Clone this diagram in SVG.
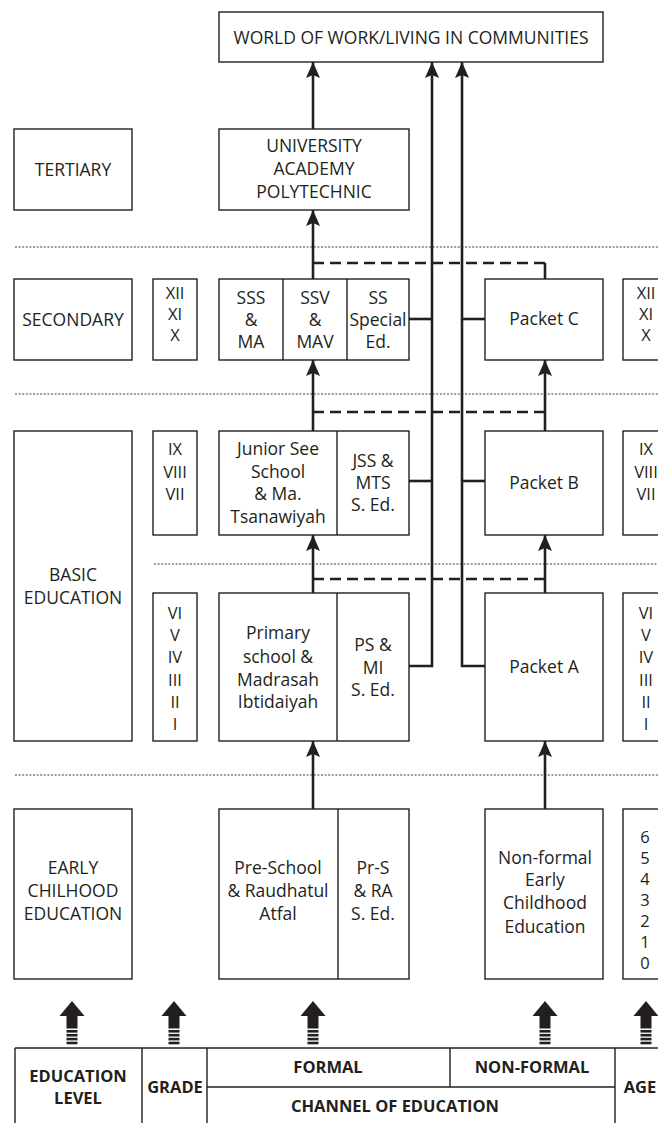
<svg xmlns="http://www.w3.org/2000/svg" width="658" height="1123" viewBox="0 0 658 1123">
  <defs>
    <style>
      .box { fill: #ffffff; stroke: #231f20; stroke-width: 1.4; }
      .div { fill: none; stroke: #231f20; stroke-width: 1.4; }
      .t { font-family: "Open Sans", "Noto Sans", sans-serif; font-size: 17.5px; fill: #231f20; text-anchor: middle; }
      .n { font-family: "Open Sans", "Noto Sans", sans-serif; font-size: 16.5px; fill: #231f20; text-anchor: middle; }
      .b { font-family: "Open Sans", "Noto Sans", sans-serif; font-size: 16.5px; font-weight: 700; fill: #231f20; text-anchor: middle; }
      .conn { fill: none; stroke: #231f20; stroke-width: 2.6; }
      .dash { fill: none; stroke: #231f20; stroke-width: 2.6; stroke-dasharray: 11 6; }
      .dot { fill: none; stroke: #9d9d9d; stroke-width: 2.2; stroke-dasharray: 2 1.6; }
      .grid { fill: none; stroke: #231f20; stroke-width: 1.4; }
    </style>
    <marker id="ah" viewBox="0 -7 16 14" markerWidth="16" markerHeight="14" refX="16" refY="0" orient="auto" markerUnits="userSpaceOnUse">
      <path d="M0,-7 L16,0 L0,7 L3,0 Z" fill="#231f20"/>
    </marker>
    <!-- wide arrow with striped tail, tip at origin -->
    <g id="barrow" fill="#231f20">
      <path d="M0,0 L12.5,15 L-12.5,15 Z"/>
      <rect x="-5.5" y="15" width="11" height="12.5"/>
      <rect x="-5.5" y="29" width="11" height="2.6"/>
      <rect x="-5.5" y="32.9" width="11" height="2.6"/>
      <rect x="-5.5" y="36.8" width="11" height="2.6"/>
      <rect x="-5.5" y="40.7" width="11" height="2.6"/>
    </g>
  </defs>

  <rect width="658" height="1123" fill="#ffffff"/>

  <!-- level separators -->
  <g id="separators">
    <path class="dot" d="M15,247 H658"/>
    <path class="dot" d="M15,394 H658"/>
    <path class="dot" d="M154,564 H658"/>
    <path class="dot" d="M15,775 H658"/>
  </g>

  <!-- connectors -->
  <g id="connectors">
    <path class="dash" d="M313,263 H545"/>
    <path class="dash" d="M313,412 H545"/>
    <path class="dash" d="M313,579 H545"/>
    <path class="conn" d="M545,279 V263"/>
    <path class="conn" d="M313,129 V62" marker-end="url(#ah)"/>
    <path class="conn" d="M313,279 V210" marker-end="url(#ah)"/>
    <path class="conn" d="M313,431 V360" marker-end="url(#ah)"/>
    <path class="conn" d="M313,593 V535" marker-end="url(#ah)"/>
    <path class="conn" d="M313,809 V741" marker-end="url(#ah)"/>
    <path class="conn" d="M545,431 V360" marker-end="url(#ah)"/>
    <path class="conn" d="M545,593 V535" marker-end="url(#ah)"/>
    <path class="conn" d="M545,809 V741" marker-end="url(#ah)"/>
    <path class="conn" d="M409,666 H432 V62" marker-end="url(#ah)"/>
    <path class="conn" d="M485,666 H462 V62" marker-end="url(#ah)"/>
    <path class="conn" d="M409,481 H432"/>
    <path class="conn" d="M409,319 H432"/>
    <path class="conn" d="M485,481 H462"/>
    <path class="conn" d="M485,319 H462"/>
  </g>

  <!-- world of work -->
  <g id="world">
    <rect class="box" x="219" y="12" width="384" height="50"/>
    <text class="t" x="411" y="44">WORLD OF WORK/LIVING IN COMMUNITIES</text>
  </g>

  <!-- tertiary -->
  <g id="tertiary">
    <rect class="box" x="14" y="129" width="118" height="81"/>
    <text class="t" x="73" y="176">TERTIARY</text>
  </g>
  <g id="university">
    <rect class="box" x="219" y="129" width="190" height="81"/>
    <text class="t" x="314" y="152">UNIVERSITY</text>
    <text class="t" x="314" y="175">ACADEMY</text>
    <text class="t" x="314" y="198">POLYTECHNIC</text>
  </g>

  <!-- secondary -->
  <g id="secondary">
    <rect class="box" x="14" y="279" width="118" height="81"/>
    <text class="t" x="73" y="326">SECONDARY</text>
  </g>
  <g id="grade-secondary">
    <rect class="box" x="153" y="279" width="44" height="81"/>
    <text class="n" x="175" y="299">XII</text>
    <text class="n" x="175" y="320">XI</text>
    <text class="n" x="175" y="341">X</text>
  </g>
  <g id="senior-secondary">
    <rect class="box" x="219" y="279" width="190" height="81"/>
    <path class="div" d="M283,279 V360 M347,279 V360"/>
    <text class="t" x="251" y="304">SSS</text>
    <text class="t" x="251" y="326">&amp;</text>
    <text class="t" x="251" y="348">MA</text>
    <text class="t" x="315" y="304">SSV</text>
    <text class="t" x="315" y="326">&amp;</text>
    <text class="t" x="315" y="348">MAV</text>
    <text class="t" x="378" y="304">SS</text>
    <text class="t" x="378" y="326">Special</text>
    <text class="t" x="378" y="348">Ed.</text>
  </g>
  <g id="packet-c">
    <rect class="box" x="485" y="279" width="118" height="81"/>
    <text class="t" x="544" y="325">Packet C</text>
  </g>
  <g id="age-secondary">
    <rect class="box" x="623" y="279" width="44" height="81"/>
    <text class="n" x="646" y="299">XII</text>
    <text class="n" x="646" y="320">XI</text>
    <text class="n" x="646" y="341">X</text>
  </g>

  <!-- basic education -->
  <g id="basic">
    <rect class="box" x="14" y="431" width="118" height="310"/>
    <text class="t" x="73" y="581">BASIC</text>
    <text class="t" x="73" y="604">EDUCATION</text>
  </g>
  <g id="grade-junior">
    <rect class="box" x="153" y="431" width="44" height="104"/>
    <text class="n" x="175" y="455">IX</text>
    <text class="n" x="175" y="478">VIII</text>
    <text class="n" x="175" y="500">VII</text>
  </g>
  <g id="junior">
    <rect class="box" x="219" y="431" width="190" height="104"/>
    <path class="div" d="M337,431 V535"/>
    <text class="t" x="278" y="455">Junior See</text>
    <text class="t" x="278" y="478">School</text>
    <text class="t" x="278" y="500">&amp; Ma.</text>
    <text class="t" x="278" y="523">Tsanawiyah</text>
    <text class="t" x="373" y="467">JSS &amp;</text>
    <text class="t" x="373" y="489">MTS</text>
    <text class="t" x="373" y="511">S. Ed.</text>
  </g>
  <g id="packet-b">
    <rect class="box" x="485" y="431" width="118" height="104"/>
    <text class="t" x="544" y="489">Packet B</text>
  </g>
  <g id="age-junior">
    <rect class="box" x="623" y="431" width="44" height="104"/>
    <text class="n" x="646" y="455">IX</text>
    <text class="n" x="646" y="478">VIII</text>
    <text class="n" x="646" y="500">VII</text>
  </g>

  <g id="grade-primary">
    <rect class="box" x="153" y="593" width="44" height="148"/>
    <text class="n" x="175" y="619">VI</text>
    <text class="n" x="175" y="641">V</text>
    <text class="n" x="175" y="663">IV</text>
    <text class="n" x="175" y="686">III</text>
    <text class="n" x="175" y="708">II</text>
    <text class="n" x="175" y="730">I</text>
  </g>
  <g id="primary">
    <rect class="box" x="219" y="593" width="190" height="148"/>
    <path class="div" d="M337,593 V741"/>
    <text class="t" x="278" y="639">Primary</text>
    <text class="t" x="278" y="663">school &amp;</text>
    <text class="t" x="278" y="686">Madrasah</text>
    <text class="t" x="278" y="708">Ibtidaiyah</text>
    <text class="t" x="373" y="651">PS &amp;</text>
    <text class="t" x="373" y="674">MI</text>
    <text class="t" x="373" y="696">S. Ed.</text>
  </g>
  <g id="packet-a">
    <rect class="box" x="485" y="593" width="118" height="148"/>
    <text class="t" x="544" y="673">Packet A</text>
  </g>
  <g id="age-primary">
    <rect class="box" x="623" y="593" width="44" height="148"/>
    <text class="n" x="646" y="619">VI</text>
    <text class="n" x="646" y="641">V</text>
    <text class="n" x="646" y="663">IV</text>
    <text class="n" x="646" y="686">III</text>
    <text class="n" x="646" y="708">II</text>
    <text class="n" x="646" y="730">I</text>
  </g>

  <!-- early childhood -->
  <g id="early">
    <rect class="box" x="14" y="809" width="118" height="170"/>
    <text class="t" x="73" y="874">EARLY</text>
    <text class="t" x="73" y="897">CHILHOOD</text>
    <text class="t" x="73" y="920">EDUCATION</text>
  </g>
  <g id="pre-school">
    <rect class="box" x="219" y="809" width="190" height="170"/>
    <path class="div" d="M338,809 V979"/>
    <text class="t" x="278" y="874">Pre-School</text>
    <text class="t" x="278" y="897">&amp; Raudhatul</text>
    <text class="t" x="278" y="920">Atfal</text>
    <text class="t" x="373" y="874">Pr-S</text>
    <text class="t" x="373" y="897">&amp; RA</text>
    <text class="t" x="373" y="920">S. Ed.</text>
  </g>
  <g id="non-formal-early">
    <rect class="box" x="485" y="809" width="118" height="170"/>
    <text class="t" x="545" y="864">Non-formal</text>
    <text class="t" x="545" y="886">Early</text>
    <text class="t" x="545" y="909">Childhood</text>
    <text class="t" x="545" y="933">Education</text>
  </g>
  <g id="age-early">
    <rect class="box" x="623" y="809" width="44" height="170"/>
    <text class="n" x="645" y="843">6</text>
    <text class="n" x="645" y="864">5</text>
    <text class="n" x="645" y="885">4</text>
    <text class="n" x="645" y="906">3</text>
    <text class="n" x="645" y="927">2</text>
    <text class="n" x="645" y="948">1</text>
    <text class="n" x="645" y="969">0</text>
  </g>

  <!-- axis arrows -->
  <g id="axis-arrows">
    <use href="#barrow" x="72" y="1001"/>
    <use href="#barrow" x="174" y="1001"/>
    <use href="#barrow" x="313" y="1001"/>
    <use href="#barrow" x="545" y="1001"/>
    <use href="#barrow" x="646" y="1001"/>
  </g>

  <!-- legend table -->
  <g id="legend">
    <path class="grid" d="M15,1048 H660 M15,1048 V1125 M142,1048 V1125 M207,1048 V1125 M615,1048 V1125 M450,1048 V1087 M207,1087 H615"/>
    <text class="b" x="78" y="1082">EDUCATION</text>
    <text class="b" x="78" y="1104">LEVEL</text>
    <text class="b" x="175" y="1093">GRADE</text>
    <text class="b" x="328" y="1073">FORMAL</text>
    <text class="b" x="532" y="1073">NON-FORMAL</text>
    <text class="b" x="395" y="1112">CHANNEL OF EDUCATION</text>
    <text class="b" x="640" y="1093">AGE</text>
  </g>
</svg>
